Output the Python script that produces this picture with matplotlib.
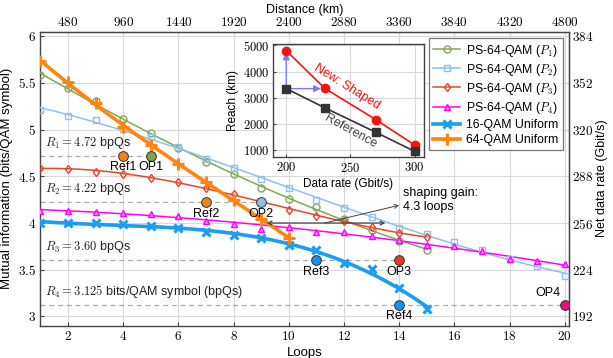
import numpy as np
import matplotlib
matplotlib.use("Agg")
import matplotlib.pyplot as plt

plt.rcParams['font.family'] = ['Liberation Sans', 'DejaVu Sans']
plt.rcParams['mathtext.fontset'] = 'cm'

# ---------------- data ----------------
loops = [1, 2, 3, 4, 5, 6, 7, 8, 9, 10, 11, 12, 13, 14, 15, 16, 17, 18, 19, 20]

p1_loops = loops[:15]
p1_mi = [5.58, 5.44, 5.31, 5.11, 4.96, 4.80, 4.65, 4.52, 4.37, 4.26, 4.17, 4.04, 3.93, 3.81, 3.71]

p2_loops = loops
p2_mi = [5.21, 5.15, 5.10, 5.01, 4.92, 4.81, 4.69, 4.59, 4.47, 4.37, 4.25, 4.16, 4.06, 3.95, 3.88,
         3.80, 3.71, 3.62, 3.54, 3.43]

p3_loops = loops[:15]
p3_mi = [4.59, 4.58, 4.55, 4.53, 4.48, 4.44, 4.38, 4.31, 4.22, 4.14, 4.08, 4.02, 3.96, 3.89, 3.85]

p4_loops = loops
p4_mi = [4.13, 4.13, 4.12, 4.11, 4.10, 4.08, 4.02, 3.99, 3.94, 3.96, 3.90, 3.90, 3.86, 3.82, 3.77,
         3.75, 3.70, 3.61, 3.59, 3.56]

qam16_loops = loops[:15]
qam16_mi = [4.00, 4.00, 4.00, 3.99, 3.97, 3.95, 3.90, 3.87, 3.84, 3.76, 3.71, 3.57, 3.51, 3.30, 3.08]

qam64_loops = loops[:10]
qam64_mi = [5.73, 5.51, 5.28, 5.03, 4.83, 4.63, 4.44, 4.25, 4.04, 3.84]

rates = [4.72, 4.22, 3.60, 3.125]
rate_texts = [r"$R_1 = 4.72$ bpQs", r"$R_2 = 4.22$ bpQs", r"$R_3 = 3.60$ bpQs",
              r"$R_4 = 3.125$ bits/QAM symbol (bpQs)"]
ref_loops = [4, 7, 11, 14]
op_loops = [5, 9, 14, 20]
ref_names = ["Ref1", "Ref2", "Ref3", "Ref4"]
op_names = ["OP1", "OP2", "OP3", "OP4"]

gain_start, gain_end = 9.2, 13.5
gain_text = "shaping gain:\n4.3 loops"

inset_rate = [200, 230, 270, 300]
inset_ref_reach = [3350, 2620, 1680, 960]
inset_shaped_reach = [4800, 3360, 2160, 1200]

km_per_loop = 240
gbps_per_bit = 64

# ---------------- style ----------------
c_p1 = '#82a856'
c_p2 = '#8ec1ec'
c_p3 = '#e8452c'
c_p4 = '#ff00ff'
c_16 = '#1a9df2'
c_64 = '#ff8410'
ref_colors = ['#f08418', '#f08418', '#1a8ff0', '#1a8ff0']
op_colors = ['#82a04f', '#8fbde4', '#e03a22', '#e8107a']

fig = plt.figure(figsize=(6.13, 3.58), dpi=100)
ax = fig.add_axes([0.066, 0.090, 0.862, 0.822])

def fit_line(x, y, deg=3):
    x = np.asarray(x, float)
    c = np.polyfit(x, y, deg)
    xs = np.linspace(x.min(), x.max(), 200)
    return xs, np.polyval(c, xs)

series = [
    (p1_loops, p1_mi, c_p1, 'o', dict(mfc='none', ms=5, mew=1.0), 1.1, r"PS-64-QAM ($P_1$)"),
    (p2_loops, p2_mi, c_p2, 's', dict(mfc='none', ms=5, mew=1.0), 1.1, r"PS-64-QAM ($P_2$)"),
    (p3_loops, p3_mi, c_p3, 'd', dict(mfc='none', ms=4.5, mew=1.0), 1.1, r"PS-64-QAM ($P_3$)"),
    (p4_loops, p4_mi, c_p4, '^', dict(mfc='#ff80ff', ms=5, mew=1.0), 1.1, r"PS-64-QAM ($P_4$)"),
    (qam16_loops, qam16_mi, c_16, 'x', dict(ms=6, mew=2.2), 2.6, "16-QAM Uniform"),
    (qam64_loops, qam64_mi, c_64, '+', dict(ms=8, mew=2.2), 2.6, "64-QAM Uniform"),
]
handles = []
for x, y, col, mk, mkw, lw, lab in series:
    xs, ys = fit_line(x, y)
    ax.plot(xs, ys, color=col, lw=lw, zorder=3)
    ax.plot(x, y, ls='none', marker=mk, color=col, zorder=4, **mkw)
    h, = ax.plot([], [], color=col, lw=lw, marker=mk, **mkw)
    h.set_label(lab)
    handles.append(h)

for r, txt, rl, ol, rn, on, rc, oc in zip(rates, rate_texts, ref_loops, op_loops,
                                          ref_names, op_names, ref_colors, op_colors):
    ax.plot([1, ol], [r, r], ls=(0, (4, 3)), color='#aaaaaa', lw=0.9, zorder=2)
    ax.text(1.15, r + 0.055, txt, fontsize=9, va='bottom', ha='left', color='#222222')
    ax.plot(rl, r, 'o', ms=7, mfc=rc, mec='#333333', mew=0.7, zorder=6)
    ax.plot(ol, r, 'o', ms=7, mfc=oc, mec='#333333', mew=0.7, zorder=6)
    ax.text(rl, r - 0.06, rn, fontsize=9, ha='center', va='top', zorder=7)
    if on == "OP4":
        ax.text(ol - 0.6, r + 0.06, on, fontsize=9, ha='center', va='bottom', zorder=7)
    else:
        ax.text(ol, r - 0.06, on, fontsize=9, ha='center', va='top', zorder=7)

# shaping gain arrow
ax.annotate('', xy=(gain_start, 4.0), xytext=(gain_end, 4.0),
            arrowprops=dict(arrowstyle='<->', color='#444444', lw=0.9,
                            shrinkA=0, shrinkB=0, mutation_scale=7), zorder=5)
ax.annotate('', xy=(14.0, 4.19), xytext=(11.3, 4.0),
            arrowprops=dict(arrowstyle='->', color='#444444', lw=0.7,
                            shrinkA=0, shrinkB=0, mutation_scale=7), zorder=5)
ax.text(14.15, 4.25, gain_text, fontsize=9, ha='left', va='center', linespacing=1.2)

ax.set_xlim(1, 20.15)
ax.set_ylim(2.9, 6.05)
ax.set_xticks(range(2, 21, 2))
ax.set_yticks(np.arange(3, 6.01, 0.5))
ax.grid(True, color='#d9d9d9', lw=0.8)
ax.set_axisbelow(True)

def mfmt(v, pos=None):
    s = ('%g' % v)
    return r'$%s$' % s

ax.xaxis.set_major_formatter(plt.FuncFormatter(mfmt))
ax.yaxis.set_major_formatter(plt.FuncFormatter(mfmt))
ax.tick_params(direction='in', labelsize=9.5, length=3, color='#444444', pad=3)
for s in ax.spines.values():
    s.set_color('#444444')
    s.set_linewidth(1.0)
ax.set_xlabel("Loops", fontsize=9.5, labelpad=3)
ax.set_ylabel("Mutual information (bits/QAM symbol)", fontsize=9.5, labelpad=4)

top = ax.secondary_xaxis('top', functions=(lambda l: l * km_per_loop, lambda d: d / km_per_loop))
top.set_xticks(range(480, 4801, 480))
top.xaxis.set_major_formatter(plt.FuncFormatter(mfmt))
top.tick_params(direction='in', labelsize=9.5, length=3, color='#444444', pad=2)
top.set_xlabel("Distance (km)", fontsize=9, labelpad=2)

right = ax.secondary_yaxis('right', functions=(lambda m: m * gbps_per_bit, lambda r: r / gbps_per_bit))
right.set_yticks(range(192, 385, 32))
right.yaxis.set_major_formatter(plt.FuncFormatter(mfmt))
right.tick_params(direction='in', labelsize=9.5, length=3, color='#444444', pad=2)
right.set_ylabel("Net data rate (Gbit/s)", fontsize=9, labelpad=2)

leg = ax.legend(handles=handles, loc='upper right', bbox_to_anchor=(0.993, 0.985),
                fontsize=8.8, frameon=True, fancybox=False, edgecolor='#555555',
                borderpad=0.35, labelspacing=0.25, handlelength=2.2, handletextpad=0.5,
                borderaxespad=0.2)
leg.get_frame().set_linewidth(0.9)
leg.set_zorder(10)

# ---------------- inset ----------------
ins = fig.add_axes([0.446, 0.562, 0.245, 0.315])
ins.set_facecolor('white')
ins.plot(inset_rate, inset_shaped_reach, color='#ff1010', lw=1.2, marker='o', ms=6, zorder=4)
ins.plot(inset_rate, inset_ref_reach, color='#333333', lw=1.2, marker='s', ms=6, zorder=4)
ins.annotate('', xy=(inset_rate[0], inset_shaped_reach[0] - 80),
             xytext=(inset_rate[0], inset_ref_reach[0]),
             arrowprops=dict(arrowstyle='-|>', color='#7a7aff', lw=1.0,
                             shrinkA=0, shrinkB=0, mutation_scale=10), zorder=3)
ins.annotate('', xy=(inset_rate[1] - 3, inset_ref_reach[0]),
             xytext=(inset_rate[0], inset_ref_reach[0]),
             arrowprops=dict(arrowstyle='-|>', color='#7a7aff', lw=1.0,
                             shrinkA=0, shrinkB=0, mutation_scale=10), zorder=3)
ins.text(247, 3420, "New: Shaped", color='#ff1010', fontsize=9, rotation=-32,
         ha='center', va='center', rotation_mode='anchor')
ins.text(250, 1740, "Reference", color='#444444', fontsize=9, rotation=-29,
         ha='center', va='center', rotation_mode='anchor')
ins.set_xlim(190, 307)
ins.set_ylim(750, 5050)
ins.set_xticks([200, 250, 300])
ins.set_yticks([1000, 2000, 3000, 4000, 5000])
ins.xaxis.set_major_formatter(plt.FuncFormatter(mfmt))
ins.yaxis.set_major_formatter(plt.FuncFormatter(mfmt))
ins.grid(True, color='#d9d9d9', lw=0.8)
ins.set_axisbelow(True)
ins.tick_params(direction='in', labelsize=9, length=2.5, color='#444444', pad=3)
for s in ins.spines.values():
    s.set_color('#444444')
    s.set_linewidth(1.0)
ins.set_xlabel("Data rate (Gbit/s)", fontsize=8.5, labelpad=2)
ins.set_ylabel("Reach (km)", fontsize=8.5, labelpad=3)

fig.savefig("out.png", dpi=100)
